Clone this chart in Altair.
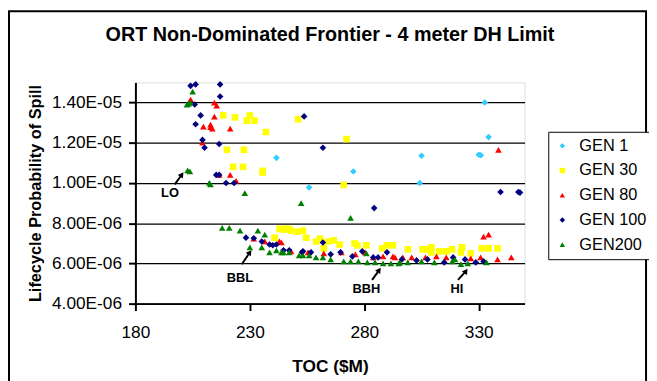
import altair as alt
import pandas as pd

# ---------------- data ----------------
series_names = ["GEN 1", "GEN 30", "GEN 80", "GEN 100", "GEN200"]
series_colors = ["#33CCFF", "#FFFF00", "#FF0000", "#000080", "#008000"]
series_shapes = ["diamond", "square", "triangle-up", "diamond", "triangle-up"]

gen1_x = [241.6, 275.2, 255.9, 332.6, 334.3, 305.0, 330.0, 330.9, 304.2]
gen1_y = [1.125e-5, 1.057e-5, 9.78e-6, 1.40e-5, 1.228e-5, 1.135e-5, 1.14e-5, 1.138e-5, 1.0e-5]

gen30_x = [218.4, 223.5, 230.0, 228.7, 232.0, 237.0, 220.0, 227.4, 222.7, 227.0, 235.6, 235.6,
           251.1, 272.2, 271.0,
           243.0, 245.0, 247.0, 240.8, 244.7, 248.0, 251.0, 253.2, 254.6, 258.9, 260.6, 264.0,
           266.6, 269.2, 262.3, 275.7, 277.0, 280.9, 287.8, 289.9, 292.5, 299.0, 305.4, 307.0,
           309.3, 309.3, 312.8, 315.8, 318.4, 322.7, 322.2, 326.5, 331.3, 334.3, 338.2]
gen30_y = [1.336e-5, 1.326e-5, 1.336e-5, 1.31e-5, 1.31e-5, 1.253e-5, 1.165e-5, 1.165e-5,
           1.08e-5, 1.08e-5, 1.06e-5, 1.052e-5, 1.317e-5, 1.218e-5, 9.9e-6,
           7.72e-6, 7.72e-6, 7.72e-6, 7.28e-6, 7.68e-6, 7.63e-6, 7.58e-6, 7.63e-6, 7.28e-6,
           7.09e-6, 7.23e-6, 7.09e-6, 7.14e-6, 6.94e-6, 6.75e-6, 6.99e-6, 6.9e-6, 6.9e-6,
           6.75e-6, 6.9e-6, 6.9e-6, 6.7e-6, 6.7e-6, 6.7e-6, 6.8e-6, 6.55e-6, 6.6e-6, 6.6e-6,
           6.7e-6, 6.8e-6, 6.55e-6, 6.5e-6, 6.75e-6, 6.75e-6, 6.75e-6]

gen80_x = [204.1, 214.5, 215.5, 214.5, 209.7, 212.8, 212.8, 213.6, 221.4, 209.3, 216.6, 221.4,
           224.0, 338.6,
           231.7, 236.5, 243.8, 242.9, 248.0, 255.4, 262.3, 270.0, 276.1, 280.4, 283.9, 288.2,
           292.5, 293.4, 296.8, 300.7, 306.7, 311.5, 315.8, 326.5, 330.8, 338.2, 344.2, 332.1,
           334.3]
gen80_y = [1.415e-5, 1.40e-5, 1.385e-5, 1.33e-5, 1.28e-5, 1.277e-5, 1.29e-5, 1.27e-5, 1.27e-5,
           1.2e-5, 1.04e-5, 1.04e-5, 1.01e-5, 1.165e-5,
           7.23e-6, 7.1e-6, 7.04e-6, 7.09e-6, 6.6e-6, 6.55e-6, 6.5e-6, 6.55e-6, 6.45e-6, 6.55e-6,
           6.3e-6, 6.35e-6, 6.35e-6, 6.3e-6, 6.3e-6, 6.3e-6, 6.3e-6, 6.35e-6, 6.3e-6, 6.25e-6,
           6.3e-6, 6.2e-6, 6.3e-6, 7.33e-6, 7.43e-6]

gen100_x = [204.1, 206.3, 217.0, 217.0, 205.9, 208.5, 206.3, 209.3, 210.2, 216.6, 215.3, 216.6,
            219.6, 223.1, 253.7, 261.9, 284.3, 339.5, 347.3, 348.0,
            228.3, 231.7, 235.2, 238.6, 240.0, 241.6, 244.7, 247.2, 252.8, 253.2, 256.7, 261.9,
            265.3, 269.6, 274.8, 279.1, 283.9, 286.0, 289.9, 296.4, 302.8, 307.6, 314.9, 318.8,
            324.0, 328.7, 332.1]
gen100_y = [1.483e-5, 1.49e-5, 1.49e-5, 1.43e-5, 1.39e-5, 1.336e-5, 1.292e-5, 1.214e-5,
            1.175e-5, 1.194e-5, 1.04e-5, 1.04e-5, 1.0e-5, 1.0e-5, 1.331e-5, 1.175e-5, 8.75e-6,
            9.55e-6, 9.55e-6, 9.52e-6,
            7.28e-6, 7.25e-6, 7.09e-6, 6.94e-6, 6.9e-6, 6.94e-6, 6.65e-6, 6.65e-6, 6.55e-6,
            6.6e-6, 6.55e-6, 7.04e-6, 6.45e-6, 6.55e-6, 6.35e-6, 6.6e-6, 6.3e-6, 6.3e-6,
            6.55e-6, 6.2e-6, 6.15e-6, 6.2e-6, 6.05e-6, 6.3e-6, 6.2e-6, 6.05e-6, 6.1e-6]

gen200_x = [205.0, 203.3, 202.5, 204.0, 202.8, 203.8, 212.3, 212.8, 227.8, 252.4, 274.0,
            217.9, 221.0, 225.7, 233.5, 236.5, 230.0, 235.2, 238.6, 241.6, 243.8, 244.7, 247.2,
            251.5, 253.2, 255.9, 258.9, 261.9, 265.3, 271.0, 274.0, 277.4, 280.9, 281.3, 284.7,
            288.2, 291.6, 295.0, 295.5, 299.0, 305.0, 310.6, 318.4, 319.6, 322.2, 325.2, 333.4]
gen200_y = [1.454e-5, 1.395e-5, 1.39e-5, 1.40e-5, 1.062e-5, 1.058e-5, 1.0e-5, 9.93e-6, 9.5e-6,
            9.0e-6, 8.26e-6,
            7.77e-6, 7.77e-6, 7.63e-6, 7.63e-6, 7.43e-6, 6.8e-6, 6.8e-6, 6.55e-6, 6.65e-6,
            6.55e-6, 6.55e-6, 6.55e-6, 6.4e-6, 6.4e-6, 6.4e-6, 6.3e-6, 6.3e-6, 6.2e-6, 6.1e-6,
            6.1e-6, 6.1e-6, 6.5e-6, 6.05e-6, 6.05e-6, 6.0e-6, 6.0e-6, 6.0e-6, 6.05e-6, 6.05e-6,
            6.1e-6, 6.05e-6, 6.1e-6, 6.2e-6, 5.96e-6, 6.0e-6, 6.05e-6]

# annotations
ann_labels = ["LO", "BBL", "BBH", "HI"]
ann_text_x = [195.1, 225.7, 280.9, 320.5]
ann_text_y = [9.49e-6, 5.27e-6, 4.74e-6, 4.74e-6]
arrow_tail_x = [197.2, 226.5, 283.4, 320.9]
arrow_tail_y = [9.93e-6, 5.96e-6, 5.18e-6, 5.18e-6]
arrow_head_x = [200.3, 230.0, 286.5, 324.4]
arrow_head_y = [1.042e-5, 6.55e-6, 5.67e-6, 5.62e-6]

x_ticks = [180, 230, 280, 330]
y_ticks = [4e-6, 6e-6, 8e-6, 1.0e-5, 1.2e-5, 1.4e-5]

# ---------------- tables ----------------
rows = []
for name, xs, ys in zip(series_names,
                        [gen1_x, gen30_x, gen80_x, gen100_x, gen200_x],
                        [gen1_y, gen30_y, gen80_y, gen100_y, gen200_y]):
    for xv, yv in zip(xs, ys):
        rows.append({"series": name, "toc": xv, "p": yv})
pts = pd.DataFrame(rows)

ann = pd.DataFrame({"label": ann_labels, "tx": ann_text_x, "ty": ann_text_y,
                    "x0": arrow_tail_x, "y0": arrow_tail_y,
                    "x1": arrow_head_x, "y1": arrow_head_y})

FONT = "Liberation Sans"
W, H = 394, 224
PAD_L, PAD_T = 129, 73

xscale = alt.Scale(domain=[180, 350], nice=False, zero=False)
yscale = alt.Scale(domain=[4e-6, 1.5e-5], nice=False, zero=False)

xaxis = alt.Axis(title="TOC ($M)", values=x_ticks, grid=False, tickSize=7, tickColor="black",
                 tickWidth=2, domainColor="black", domainWidth=2, labelFont=FONT,
                 labelFontSize=17.5, labelColor="black", labelPadding=13, labelFlush=False,
                 titleFont=FONT, titleFontSize=17.5, titleFontWeight="bold",
                 titleColor="black", titleX=197, titleY=64, titleBaseline="middle",
                 titleAlign="center")
yaxis = alt.Axis(title="Lifecycle Probability of Spill", values=y_ticks, grid=True,
                 gridColor="black", gridWidth=1.2, tickSize=7, tickColor="black",
                 tickWidth=2, domainColor="black", domainWidth=2, labelFont=FONT,
                 labelFontSize=17.5, labelColor="black", labelPadding=7, labelFlush=False,
                 labelExpr="replace(upper(format(datum.value, '.2e')), 'E-', 'E-0')",
                 titleFont=FONT, titleFontSize=16.5, titleFontWeight="bold",
                 titleColor="black", titleX=-101, titleY=112, titleAngle=270,
                 titleBaseline="middle", titleAlign="center")

points = alt.Chart(pts).mark_point(filled=True, size=45, opacity=1).encode(
    x=alt.X("toc:Q", scale=xscale, axis=xaxis),
    y=alt.Y("p:Q", scale=yscale, axis=yaxis),
    color=alt.Color("series:N", scale=alt.Scale(domain=series_names, range=series_colors),
                    legend=alt.Legend(title=None, orient="none", legendX=418, legendY=50,
                                      labelFont=FONT, labelFontSize=16.5, labelColor="black",
                                      symbolSize=30, rowPadding=8, padding=6,
                                      strokeColor="black", fillColor="white",
                                      labelOffset=9)),
    shape=alt.Shape("series:N", scale=alt.Scale(domain=series_names, range=series_shapes),
                    legend=None),
    order=alt.Order("ord:Q"),
).transform_calculate(
    ord="indexof(['GEN 1','GEN 30','GEN 80','GEN 100','GEN200'], datum.series)"
)

arrows = alt.Chart(ann).mark_rule(color="black", strokeWidth=2).encode(
    x=alt.X("x0:Q", scale=xscale), y=alt.Y("y0:Q", scale=yscale),
    x2="x1:Q", y2="y1:Q")

heads = alt.Chart(ann).mark_point(shape="triangle-up", filled=True, color="black",
                                  size=40, angle=35, opacity=1).encode(
    x=alt.X("x1:Q", scale=xscale), y=alt.Y("y1:Q", scale=yscale))

labels = alt.Chart(ann).mark_text(font=FONT, fontSize=13, fontWeight="bold",
                                  color="black", baseline="middle", align="center").encode(
    x=alt.X("tx:Q", scale=xscale), y=alt.Y("ty:Q", scale=yscale), text="label:N")

border = alt.Chart(alt.Data(values=[{"a": 1}])).mark_rect(
    filled=False, stroke="black", strokeWidth=2, clip=False).encode(
    x=alt.value(-128), x2=alt.value(517), y=alt.value(-72), y2=alt.value(330))

chart = alt.layer(border, points, arrows, heads, labels).properties(
    width=W, height=H,
    title=alt.TitleParams("ORT Non-Dominated Frontier - 4 meter DH Limit", font=FONT,
                          fontSize=20, fontWeight="bold", color="black", anchor="middle",
                          offset=0, dy=35),
    autosize=alt.AutoSizeParams(type="none"),
    padding={"left": PAD_L, "top": PAD_T, "right": 649 - PAD_L - W, "bottom": 373 - PAD_T - H},
).configure_view(
    fill="#C0C0C0", stroke="#808080", strokeWidth=2
).configure_legend(strokeWidth=2).configure(background="white")

chart.save("out.html", embed_options={"renderer": "svg", "actions": False})
